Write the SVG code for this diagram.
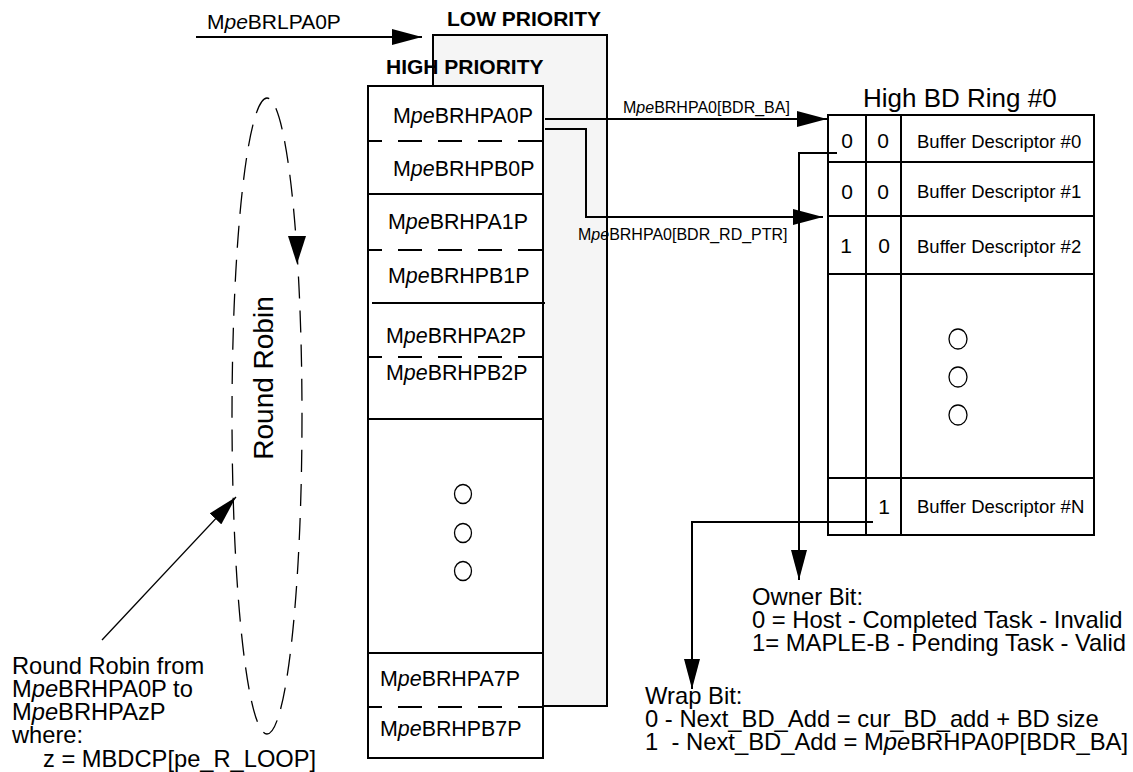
<svg xmlns="http://www.w3.org/2000/svg" width="1133" height="772" viewBox="0 0 1133 772">
<style>
.t{font-family:"Liberation Sans",Arial,sans-serif;fill:#000}
.b{font-weight:bold}
.i{font-style:italic}
.box{fill:#fff;stroke:#000;stroke-width:2}
.lp{fill:#f5f5f5;stroke:#000;stroke-width:2}
.ln{stroke:#000;stroke-width:2;fill:none}
.dsh{stroke:#000;stroke-width:2;stroke-dasharray:24 16;stroke-dashoffset:10}
.conn{fill:none;stroke:#000;stroke-width:2}
.thin{fill:none;stroke:#000;stroke-width:1.3}
.circ{fill:none;stroke:#000;stroke-width:1.3}
</style>
<defs>
<marker id="ah" viewBox="0 0 30 16" markerWidth="30" markerHeight="16" refX="30" refY="8" orient="auto" markerUnits="userSpaceOnUse">
<path d="M0,0 L30,8 L0,16 z" fill="#000"/>
</marker>
</defs>

<g id="low-priority">
<rect class="lp" x="433" y="35" width="174" height="671"/>
<text class="t b" x="447" y="26" font-size="21">LOW PRIORITY</text>
</g>

<g id="high-priority">
<rect class="box" x="368" y="86" width="175" height="672"/>
<text class="t b" x="386" y="74" font-size="21">HIGH PRIORITY</text>
<line class="dsh" x1="368" y1="141" x2="543" y2="141"/>
<line class="ln" x1="368" y1="194" x2="543" y2="194"/>
<line class="dsh" x1="368" y1="250" x2="543" y2="250"/>
<line class="ln" x1="372" y1="303" x2="545" y2="303"/>
<line class="dsh" x1="368" y1="357" x2="543" y2="357"/>
<line class="ln" x1="368" y1="419" x2="543" y2="419"/>
<line class="ln" x1="368" y1="653" x2="543" y2="653"/>
<line class="dsh" x1="368" y1="707" x2="543" y2="707"/>
<g font-size="21.4">
<text class="t" x="393" y="123">M<tspan class="i">pe</tspan>BRHPA0P</text>
<text class="t" x="393" y="176">M<tspan class="i">pe</tspan>BRHPB0P</text>
<text class="t" x="388" y="229">M<tspan class="i">pe</tspan>BRHPA1P</text>
<text class="t" x="388" y="283">M<tspan class="i">pe</tspan>BRHPB1P</text>
<text class="t" x="386" y="343">M<tspan class="i">pe</tspan>BRHPA2P</text>
<text class="t" x="386" y="380">M<tspan class="i">pe</tspan>BRHPB2P</text>
<text class="t" x="380" y="686">M<tspan class="i">pe</tspan>BRHPA7P</text>
<text class="t" x="380" y="736">M<tspan class="i">pe</tspan>BRHPB7P</text>
</g>
<ellipse class="circ" cx="463" cy="494" rx="8.5" ry="9.5"/>
<ellipse class="circ" cx="463" cy="533" rx="8.5" ry="9.5"/>
<ellipse class="circ" cx="463" cy="571" rx="8.5" ry="9.5"/>
</g>

<g id="bd-ring">
<text class="t" x="863" y="107" font-size="26">High BD Ring #0</text>
<rect class="box" x="828" y="115" width="266" height="420"/>
<line class="ln" x1="866" y1="115" x2="866" y2="535"/>
<line class="ln" x1="901" y1="115" x2="901" y2="535"/>
<line class="ln" x1="828" y1="162" x2="1094" y2="162"/>
<line class="ln" x1="828" y1="216" x2="1094" y2="216"/>
<line class="ln" x1="828" y1="274" x2="1094" y2="274"/>
<line class="ln" x1="828" y1="478" x2="1094" y2="478"/>
<g font-size="21" text-anchor="middle">
<text class="t" x="847" y="148">0</text><text class="t" x="883" y="148">0</text>
<text class="t" x="847" y="199">0</text><text class="t" x="883" y="199">0</text>
<text class="t" x="846" y="253">1</text><text class="t" x="884" y="253">0</text>
<text class="t" x="884" y="514">1</text>
</g>
<g font-size="18.5">
<text class="t" x="917" y="148">Buffer Descriptor #0</text>
<text class="t" x="917" y="198">Buffer Descriptor #1</text>
<text class="t" x="917" y="253">Buffer Descriptor #2</text>
<text class="t" x="917" y="513">Buffer Descriptor #N</text>
</g>
<ellipse class="circ" cx="958" cy="339" rx="9" ry="10"/>
<ellipse class="circ" cx="958" cy="377" rx="9" ry="10"/>
<ellipse class="circ" cx="958" cy="415" rx="9" ry="10"/>
</g>

<g id="owner-note" font-size="23.8">
<text class="t" x="752" y="605">Owner Bit:</text>
<text class="t" x="752" y="628">0 = Host - Completed Task - Invalid</text>
<text class="t" x="752" y="651">1= MAPLE-B - Pending Task - Valid</text>
</g>

<g id="wrap-note" font-size="23.8">
<text class="t" x="645" y="704">Wrap Bit:</text>
<text class="t" x="645" y="727">0 - Next_BD_Add = cur_BD_add + BD size</text>
<text class="t" x="645" y="750">1 &#160;- Next_BD_Add = M<tspan class="i">pe</tspan>BRHPA0P[BDR_BA]</text>
</g>

<g id="round-robin">
<ellipse cx="267" cy="416" rx="35" ry="318" fill="none" stroke="#000" stroke-width="1.3" stroke-dasharray="22 12"/>
<polygon points="288,236 306,236 297,264" fill="#000"/>
<text class="t" transform="translate(273,378) rotate(-90)" x="0" y="0" font-size="28" text-anchor="middle">Round Robin</text>
</g>

<g id="rr-note" font-size="23.7">
<text class="t" x="12" y="674">Round Robin from</text>
<text class="t" x="12" y="697">M<tspan class="i">pe</tspan>BRHPA0P to</text>
<text class="t" x="12" y="720">M<tspan class="i">pe</tspan>BRHPAzP</text>
<text class="t" x="12" y="743">where:</text>
<text class="t" x="43" y="767">z = MBDCP[pe_R_LOOP]</text>
</g>

<g id="connectors">
<text class="t" x="207" y="29" font-size="21">M<tspan class="i">pe</tspan>BRLPA0P</text>
<line class="conn" x1="196" y1="37" x2="422" y2="37" marker-end="url(#ah)"/>
<line class="conn" x1="545" y1="119" x2="827" y2="119" marker-end="url(#ah)"/>
<text class="t" x="623" y="113" font-size="16">M<tspan class="i">pe</tspan>BRHPA0[BDR_BA]</text>
<path class="conn" d="M545,129 H586 V217 H823" marker-end="url(#ah)"/>
<text class="t" x="578" y="240" font-size="16">M<tspan class="i">pe</tspan>BRHPA0[BDR_RD_PTR]</text>
<path class="conn" d="M837,153 H799 V580" marker-end="url(#ah)"/>
<path class="conn" d="M873,522 H692 V689" marker-end="url(#ah)"/>
<line class="thin" x1="102" y1="640" x2="236" y2="497" marker-end="url(#ah)"/>
</g>
</svg>
